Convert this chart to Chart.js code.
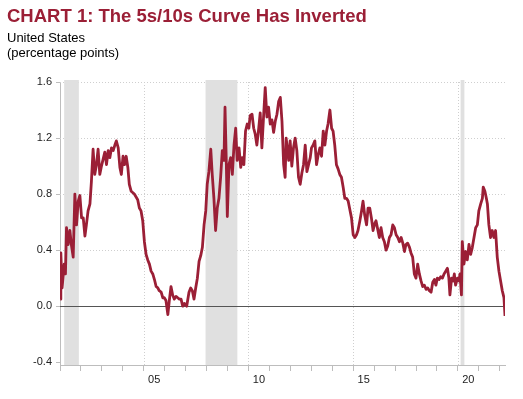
<!DOCTYPE html>
<html>
<head>
<meta charset="utf-8">
<script src="https://cdn.jsdelivr.net/npm/chart.js@4.4.1/dist/chart.umd.min.js"></script>
<style>
  html, body { margin: 0; padding: 0; background: #fff; }
  .wrap { position: relative; width: 523px; height: 399px; overflow: hidden; font-family: 'Liberation Sans', Arial, sans-serif; }
  .title { position: absolute; left: 7px; top: 7px; font-size: 18.5px; line-height: 18px; font-weight: 700; color: #9b1f36; white-space: nowrap; }
  .sub { position: absolute; left: 7px; top: 30px; font-size: 13px; line-height: 15px; color: #000; }
  canvas { position: absolute; left: 0; top: 0; }
</style>
</head>
<body>
<div class="wrap">
  <canvas id="chart" width="523" height="399"></canvas>
  <div class="title">CHART 1: The 5s/10s Curve Has Inverted</div>
  <div class="sub">United States<br>(percentage points)</div>
</div>
<script>
// ── Data (decimal years) ──────────────────────────────
const dates = [
  2001.01,2001.04,2001.10,2001.20,2001.26,2001.31,2001.39,2001.47,2001.55,2001.63,2001.71,2001.79,2001.87,2001.95,
  2002.03,2002.11,2002.19,2002.26,2002.34,2002.43,2002.50,2002.58,2002.66,2002.74,2002.82,2002.90,2002.98,
  2003.06,2003.14,2003.22,2003.30,2003.38,2003.46,2003.54,2003.62,2003.69,2003.78,2003.86,2003.93,
  2004.01,2004.08,2004.16,2004.24,2004.31,2004.40,2004.55,2004.71,2004.79,2004.87,2004.95,
  2005.03,2005.11,2005.19,2005.27,2005.35,2005.43,2005.51,2005.59,2005.67,2005.74,2005.83,2005.91,2005.98,
  2006.06,2006.15,2006.22,2006.30,2006.38,2006.46,2006.54,2006.62,2006.70,2006.78,2006.86,2006.94,
  2007.05,2007.16,2007.24,2007.32,2007.40,2007.48,2007.56,2007.64,2007.72,2007.80,2007.88,2007.96,
  2008.03,2008.11,2008.20,2008.27,2008.35,2008.43,2008.51,2008.59,2008.67,2008.75,2008.83,2008.88,2008.94,2008.99,
  2009.07,2009.15,2009.23,2009.31,2009.39,2009.46,2009.55,2009.63,2009.70,2009.78,2009.86,2009.94,
  2010.02,2010.08,2010.17,2010.25,2010.32,2010.40,2010.49,2010.56,2010.64,2010.72,2010.80,2010.88,2010.96,
  2011.04,2011.12,2011.20,2011.28,2011.36,2011.44,2011.52,2011.60,2011.68,2011.75,2011.80,2011.92,2011.99,
  2012.07,2012.15,2012.23,2012.31,2012.39,2012.47,2012.55,2012.63,2012.71,2012.79,2012.87,2012.95,
  2013.01,2013.09,2013.17,2013.25,2013.33,2013.41,2013.49,2013.57,2013.65,2013.73,2013.80,2013.89,2013.97,
  2014.04,2014.12,2014.20,2014.28,2014.36,2014.44,2014.52,2014.60,2014.68,2014.76,2014.84,2014.92,
  2015.00,2015.08,2015.16,2015.23,2015.32,2015.40,2015.47,2015.55,2015.64,2015.71,2015.79,2015.87,2015.95,
  2016.03,2016.09,2016.17,2016.25,2016.33,2016.41,2016.49,2016.57,2016.65,2016.73,2016.81,2016.89,2016.97,
  2017.05,2017.13,2017.21,2017.29,2017.37,2017.45,2017.52,2017.60,2017.69,2017.76,2017.84,2017.92,
  2018.00,2018.08,2018.16,2018.24,2018.32,2018.40,2018.48,2018.56,2018.64,2018.72,2018.80,2018.88,2018.95,
  2019.02,2019.10,2019.18,2019.26,2019.34,2019.42,2019.50,2019.57,2019.62,2019.70,2019.77,2019.83,2019.89,2019.98,
  2020.05,2020.10,2020.17,2020.21,2020.29,2020.37,2020.45,2020.53,2020.61,2020.69,2020.77,2020.85,2020.93,
  2021.00,2021.09,2021.17,2021.21,2021.29,2021.36,2021.41,2021.48,2021.56,2021.64,2021.72,2021.80,2021.88,2021.96,
  2022.04,2022.12,2022.20,2022.25,
];
const spread = [
  0.05,0.38,0.13,0.30,0.23,0.56,0.44,0.54,0.43,0.35,0.80,0.58,0.75,0.79,
  0.63,0.63,0.50,0.58,0.68,0.73,0.89,1.12,0.94,1.01,1.12,0.94,1.00,
  1.05,1.10,1.01,1.11,1.06,1.13,1.11,1.15,1.18,1.13,0.99,0.94,
  1.07,1.01,1.07,0.99,0.87,0.82,0.80,0.76,0.70,0.68,0.61,
  0.46,0.37,0.33,0.30,0.25,0.23,0.19,0.14,0.13,0.11,0.10,0.06,0.06,
  0.04,-0.06,0.04,0.14,0.08,0.05,0.07,0.06,0.05,0.05,0.00,0.02,
  0.00,0.10,0.13,0.11,0.05,0.13,0.20,0.32,0.36,0.42,0.58,0.68,
  0.87,0.96,1.12,0.94,0.77,0.54,0.70,0.77,0.92,1.11,1.04,1.42,1.04,0.64,
  1.01,1.06,0.94,1.15,1.27,1.04,1.13,0.99,1.06,1.01,1.25,1.30,
  1.27,1.36,1.37,1.27,1.23,1.15,1.27,1.38,1.13,1.35,1.56,1.35,1.42,
  1.30,1.33,1.24,1.32,1.37,1.46,1.49,1.32,1.01,0.92,1.20,1.04,1.18,
  1.00,1.13,1.20,1.11,0.92,0.87,0.95,1.01,1.15,0.96,1.01,1.06,
  1.13,1.15,1.18,1.01,1.08,1.13,1.07,1.25,1.15,1.25,1.30,1.40,1.27,
  1.25,1.15,1.01,0.98,0.94,0.92,0.85,0.77,0.77,0.75,0.69,0.63,
  0.51,0.49,0.51,0.54,0.61,0.68,0.75,0.65,0.58,0.70,0.70,0.63,0.54,
  0.59,0.61,0.55,0.49,0.56,0.49,0.46,0.40,0.43,0.49,0.51,0.58,0.56,
  0.51,0.49,0.46,0.49,0.45,0.39,0.44,0.45,0.42,0.38,0.35,0.23,
  0.20,0.30,0.23,0.18,0.14,0.15,0.12,0.13,0.11,0.10,0.17,0.19,0.15,
  0.20,0.19,0.21,0.20,0.23,0.25,0.27,0.20,0.08,0.20,0.18,0.23,0.15,0.20,
  0.18,0.23,0.08,0.46,0.30,0.39,0.33,0.44,0.37,0.42,0.49,0.56,0.58,
  0.68,0.73,0.77,0.85,0.82,0.77,0.73,0.58,0.49,0.54,0.49,0.54,0.35,0.25,
  0.18,0.11,0.06,-0.07,
];

// recessions (shaded)
const recStart = [2001.20, 2007.95, 2020.13];
const recEnd   = [2001.90, 2009.47, 2020.31];

// axes
const yTicks       = [-0.4, 0, 0.4, 0.8, 1.2, 1.6];
const xYears       = [2001,2002,2003,2004,2005,2006,2007,2008,2009,2010,2011,2012,2013,2014,2015,2016,2017,2018,2019,2020,2021,2022];
const xLabelYears  = [2005, 2010, 2015, 2020];
const xTickLabels  = ['05', '10', '15', '20'];

const RED  = '#9b1f36';
const AXIS = '#bdbdbd';

// ── Backdrop: recession bars, dotted grid, zero line ──
const backdrop = {
  id: 'backdrop',
  beforeDatasetsDraw(chart) {
    const { ctx, chartArea: a, scales: { x, y } } = chart;
    ctx.save();
    ctx.lineWidth = 1;
    ctx.strokeStyle = '#cfcfcf';
    ctx.setLineDash([1, 2]);
    yTicks.filter(v => v > 0).forEach(v => {
      const py = Math.round(y.getPixelForValue(v)) + 0.5;
      ctx.beginPath(); ctx.moveTo(a.left, py); ctx.lineTo(a.right, py); ctx.stroke();
    });
    xLabelYears.forEach(v => {
      const px = Math.round(x.getPixelForValue(v)) + 0.5;
      ctx.beginPath(); ctx.moveTo(px, a.top); ctx.lineTo(px, a.bottom); ctx.stroke();
    });
    ctx.setLineDash([]);

    ctx.fillStyle = '#e0e0e0';
    recStart.forEach((s, i) => {
      const x0 = x.getPixelForValue(s), x1 = x.getPixelForValue(recEnd[i]);
      ctx.fillRect(x0, a.top - 2, x1 - x0, a.bottom - a.top + 2);
    });

    const zy = Math.round(y.getPixelForValue(0)) + 0.5;
    ctx.strokeStyle = '#555';
    ctx.beginPath(); ctx.moveTo(a.left, zy); ctx.lineTo(a.right, zy); ctx.stroke();
    ctx.restore();
  },
};

// ── Chart ─────────────────────────────────────────────
const tickFont = { family: "'Liberation Sans', Arial, sans-serif", size: 11 };

new Chart(document.getElementById('chart'), {
  type: 'line',
  data: {
    datasets: [{
      label: '5s/10s',
      data: dates.map((d, i) => ({ x: d, y: spread[i] })),
      borderColor: RED,
      borderWidth: 2.8,
      borderJoinStyle: 'round',
      pointRadius: 0,
      tension: 0,
      fill: false,
    }],
  },
  options: {
    responsive: false,
    animation: false,
    devicePixelRatio: 1,
    layout: { padding: { top: 82, right: 18, left: 0, bottom: 0 } },
    plugins: { legend: { display: false }, tooltip: { enabled: false }, title: { display: false } },
    scales: {
      x: {
        type: 'linear',
        min: 2001,
        max: 2022.25,
        afterBuildTicks: s => {
          s.ticks = xYears.map(v => ({ value: v }))
            .concat(xLabelYears.map(v => ({ value: v + 0.5 })))
            .sort((p, q) => p.value - q.value);
        },
        afterFit: s => { s.height = 34; },
        ticks: {
          autoSkip: false, maxRotation: 0, padding: 2, color: '#222', font: tickFont,
          callback: v => {
            const i = xLabelYears.indexOf(v - 0.5);
            return i >= 0 ? xTickLabels[i] : '';
          },
        },
        grid: {
          drawOnChartArea: false, tickLength: 6,
          tickColor: c => Number.isInteger(c.tick.value) ? AXIS : 'rgba(0,0,0,0)',
        },
        border: { display: true, color: AXIS, width: 1 },
      },
      y: {
        min: -0.42,
        max: 1.6,
        afterBuildTicks: s => { s.ticks = yTicks.map(v => ({ value: v })); },
        afterFit: s => { s.width = 60; },
        ticks: { padding: 4, color: '#222', font: tickFont, callback: v => v.toFixed(1) },
        grid: { drawOnChartArea: false, tickLength: 4, tickColor: AXIS },
        border: { display: true, color: AXIS, width: 1 },
      },
    },
  },
  plugins: [backdrop],
});
</script>
</body>
</html>
